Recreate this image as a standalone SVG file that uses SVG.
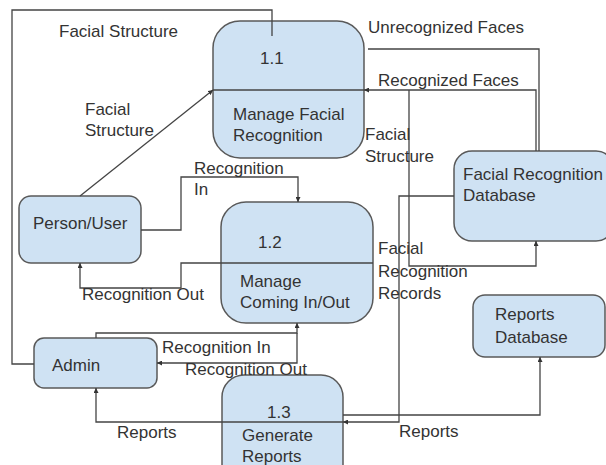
<svg xmlns="http://www.w3.org/2000/svg" width="606" height="465" viewBox="0 0 606 465">
<defs>
<style>
.box{fill:#cfe2f3;stroke:#595959;stroke-width:1.5}
.div{stroke:#444;stroke-width:1.3;fill:none}
.ln{stroke:#444;stroke-width:1.3;fill:none}
.ar{stroke:#444;stroke-width:1.3;fill:none;marker-end:url(#ah)}
text{font-family:"Liberation Sans",Arial,sans-serif;font-size:17px;fill:#333}
</style>
<marker id="ah" viewBox="0 0 10 10" refX="10" refY="5" markerWidth="5" markerHeight="5" orient="auto" markerUnits="userSpaceOnUse">
<path d="M0,0 L10,5 L0,10 z" fill="#333"/>
</marker>
</defs>
<rect width="606" height="465" fill="#fff"/>

<g id="p11">
<rect class="box" x="213" y="21" width="151" height="137" rx="27"/>
<line class="div" x1="213" y1="90" x2="364" y2="90"/>
<text x="260" y="64">1.1</text>
<text x="233" y="120">Manage Facial</text>
<text x="233" y="141">Recognition</text>
</g>

<g id="p12">
<rect class="box" x="221" y="202" width="152" height="121" rx="25"/>
<line class="div" x1="221" y1="263" x2="373" y2="263"/>
<text x="258" y="248">1.2</text>
<text x="240" y="287">Manage</text>
<text x="240" y="308">Coming In/Out</text>
</g>

<g id="p13">
<rect class="box" x="222" y="375" width="121" height="120" rx="22"/>
<line class="div" x1="222" y1="422" x2="343" y2="422"/>
<text x="267" y="418">1.3</text>
<text x="242" y="441">Generate</text>
<text x="242" y="462">Reports</text>
</g>

<g id="person">
<rect class="box" x="19" y="196" width="122" height="67" rx="12"/>
<text x="33" y="229">Person/User</text>
</g>

<g id="admin">
<rect class="box" x="34" y="338" width="123" height="50" rx="10"/>
<text x="52" y="371">Admin</text>
</g>

<g id="frdb">
<rect class="box" x="454" y="151" width="160" height="90" rx="18"/>
<text x="463" y="180">Facial Recognition</text>
<text x="463" y="201">Database</text>
</g>

<g id="rdb">
<rect class="box" x="473" y="295" width="132" height="62" rx="12"/>
<text x="495" y="320">Reports</text>
<text x="495" y="343">Database</text>
</g>

<g id="connectors">
<polyline class="ln" points="34,364 12,364 12,10 272,10 272,36"/>
<line class="ar" x1="80" y1="196" x2="213" y2="90"/>
<polyline class="ln" points="368,49 539,49 539,151"/>
<polyline class="ar" points="536,151 536,90 364,90"/>
<polyline class="ar" points="409,90 409,266 536,266 536,241"/>
<polyline class="ar" points="141,230 181,230 181,177 298,177 298,202"/>
<polyline class="ar" points="221,263 181,263 181,288 80,288 80,263"/>
<polyline class="ar" points="96,338 96,333 297,333 297,323"/>
<polyline class="ar" points="297,333 297,363 157,363"/>
<polyline class="ar" points="454,196 399,196 399,422 343,422"/>
<polyline class="ar" points="343,415 540,415 540,357"/>
<polyline class="ar" points="222,422 96,422 96,388"/>
</g>

<g id="labels">
<text x="59" y="37">Facial Structure</text>
<text x="85" y="115">Facial</text>
<text x="85" y="136">Structure</text>
<text x="368" y="33">Unrecognized Faces</text>
<text x="378" y="86">Recognized Faces</text>
<text x="365" y="140">Facial</text>
<text x="365" y="162">Structure</text>
<text x="194" y="174">Recognition</text>
<text x="194" y="195">In</text>
<text x="82" y="300">Recognition Out</text>
<text x="378" y="254">Facial</text>
<text x="378" y="277">Recognition</text>
<text x="378" y="299">Records</text>
<text x="162" y="353">Recognition In</text>
<text x="185" y="375">Recognition Out</text>
<text x="117" y="438">Reports</text>
<text x="399" y="437">Reports</text>
</g>
</svg>
